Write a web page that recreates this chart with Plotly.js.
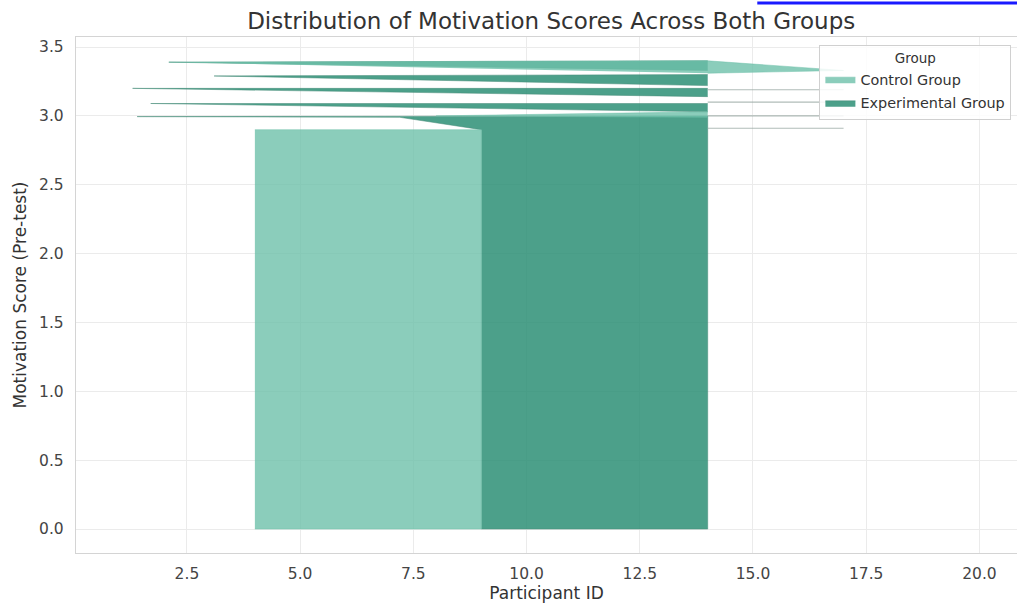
<!DOCTYPE html>
<html>
<head>
<meta charset="utf-8">
<script src="https://cdn.plot.ly/plotly-3.0.1.min.js"></script>
<style>html,body{margin:0;padding:0;background:#fff;}#chart{width:1017px;height:608px;}</style>
</head>
<body>
<div id="chart"></div>
<script>
// Outline points (participant ID, pre-test motivation score); null separates pieces
const experimentalIds    = [9, 14, 14, 1.4, 7.2, 9, null, 14, 1.7, 14, null, 14, 1.3, 14, null, 14, 3.1, 14, null, 14, 2.1, 14];
const experimentalScores = [0, 0, 3.0, 2.995, 2.99, 2.9, null, 3.03, 3.09, 3.09, null, 3.14, 3.2, 3.2, null, 3.22, 3.29, 3.3, null, 3.33, 3.39, 3.4];
const controlIds    = [4, 9, 9, 4, null, 2.1, 14, 17, 14, null, 14, 8, 14];
const controlScores = [0, 0, 2.9, 2.9, null, 3.39, 3.4, 3.33, 3.31, null, 3.03, 3.0, 2.99];
const edgeIds    = [14, 17, null, 14, 17, null, 14, 17, null, 14, 17];
const edgeScores = [3.19, 3.19, null, 3.1, 3.1, null, 3.0, 3.0, null, 2.91, 2.91];
const groupNames = ["Control Group", "Experimental Group"];
const xTicks = [2.5, 5.0, 7.5, 10.0, 12.5, 15.0, 17.5, 20.0];
const yTicks = [0.0, 0.5, 1.0, 1.5, 2.0, 2.5, 3.0, 3.5];

const font = "DejaVu Sans, Liberation Sans, sans-serif";
const traces = [
  {x: experimentalIds, y: experimentalScores, mode: "lines", fill: "toself",
   fillcolor: "rgba(45,143,118,0.85)", line: {color: "rgba(70,140,120,0.75)", width: 0.7},
   name: groupNames[1], hoverinfo: "skip", legendrank: 2, legendgroup: "e"},
  {x: controlIds, y: controlScores, mode: "lines", fill: "toself",
   fillcolor: "rgba(110,192,170,0.8)", line: {color: "rgba(110,192,170,0.7)", width: 0.7},
   name: groupNames[0], hoverinfo: "skip", legendrank: 1, legendgroup: "c"},
  {x: edgeIds, y: edgeScores, mode: "lines", line: {color: "rgba(150,165,160,0.75)", width: 1.1},
   showlegend: false, hoverinfo: "skip"}
];

const layout = {
  width: 1017, height: 608,
  margin: {l: 76, r: 0, t: 37, b: 55},
  paper_bgcolor: "#fff", plot_bgcolor: "#fff",
  font: {family: font, size: 14.4, color: "#444"},
  title: {text: "Distribution of Motivation Scores Across Both Groups",
          font: {family: font, size: 23, color: "#333"},
          x: 0.542, xanchor: "center", y: 0.965, yanchor: "middle"},
  xaxis: {range: [0.05, 20.83], tickvals: xTicks, ticktext: xTicks.map(v => v.toFixed(1)),
          showgrid: true, gridcolor: "#ebebeb", gridwidth: 1, zeroline: false,
          showline: true, linecolor: "#d4d4d4", linewidth: 1.2, mirror: true,
          ticks: "outside", ticklen: 6, tickcolor: "rgba(0,0,0,0)",
          tickfont: {family: font, size: 15.5, color: "#444"},
          title: {text: "Participant ID", font: {family: font, size: 17, color: "#333"}, standoff: 5}},
  yaxis: {range: [-0.174, 3.573], tickvals: yTicks, ticktext: yTicks.map(v => v.toFixed(1)),
          showgrid: true, gridcolor: "#ebebeb", gridwidth: 1, zeroline: false,
          showline: true, linecolor: "#d4d4d4", linewidth: 1.2, mirror: true,
          ticks: "outside", ticklen: 8, tickcolor: "rgba(0,0,0,0)",
          tickfont: {family: font, size: 15.5, color: "#444"},
          title: {text: "Motivation Score (Pre-test)", font: {family: font, size: 17, color: "#333"}, standoff: 8}},
  legend: {x: 0.79, y: 0.985, xanchor: "left", yanchor: "top",
           bgcolor: "rgba(255,255,255,0.85)", bordercolor: "#d0d0d0", borderwidth: 1,
           font: {family: font, size: 14.4, color: "#333"}, itemwidth: 30, tracegroupgap: 2,
           title: {text: "Group", side: "top center", font: {family: font, size: 13.5, color: "#333"}}},
  shapes: [{type: "line", xref: "paper", yref: "paper", x0: 0.724, x1: 1.0, y0: 1.066, y1: 1.066,
            line: {color: "#1a1aff", width: 3}}],
  showlegend: true
};

Plotly.newPlot("chart", traces, layout, {displayModeBar: false, staticPlot: true});
</script>
</body>
</html>
